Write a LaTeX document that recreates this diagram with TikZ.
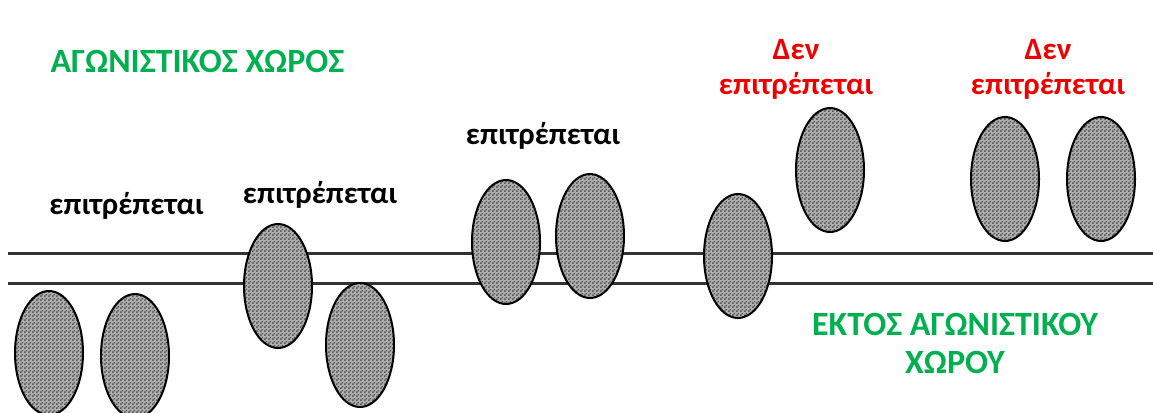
\documentclass[tikz,border=0pt]{standalone}
\usepackage{fontspec}
\setmainfont{Carlito}
\usetikzlibrary{shapes.geometric,patterns}
\pgfdeclarepatternformonly{finechecker}{\pgfpointorigin}{\pgfqpoint{4pt}{4pt}}{\pgfqpoint{4pt}{4pt}}{%
  \pgfpathrectangle{\pgfpointorigin}{\pgfqpoint{2pt}{2pt}}%
  \pgfpathrectangle{\pgfqpoint{2pt}{2pt}}{\pgfqpoint{2pt}{2pt}}%
  \pgfusepath{fill}}
\definecolor{grn}{HTML}{00B050}
\definecolor{rd}{HTML}{EE0000}
\definecolor{celllight}{HTML}{B0B0B0}
\definecolor{celldark}{HTML}{5A5A5A}
\tikzset{
  cell/.style={ellipse, draw=black, line width=2pt, preaction={fill=celllight}, pattern=finechecker, pattern color=celldark, minimum width=68pt, minimum height=124pt, inner sep=0pt},
  zone/.style={text=grn, font=\fontsize{34}{38}\selectfont\bfseries, align=center, inner sep=0pt},
  ok/.style={text=black, font=\fontsize{31}{35}\selectfont\bfseries, inner sep=0pt},
  notok/.style={text=rd, font=\fontsize{31}{35}\selectfont\bfseries, align=center, inner sep=0pt},
  rail/.style={draw=black!80, line width=3pt}
}
\begin{document}
\begin{tikzpicture}[x=1pt,y=-1pt]
\useasboundingbox[fill=white] (0,0) rectangle (1153,412);
% rails
\coordinate (u0) at (8,253);
\coordinate (u1) at (1153,253);
\coordinate (l0) at (8,283);
\coordinate (l1) at (1153,283);
\draw[rail] (u0) -- (u1);
\draw[rail] (l0) -- (l1);
% cells
\node[cell] (c1) at (49,353) {};
\node[cell] (c2) at (135,356) {};
\node[cell] (c3) at (278,286) {};
\node[cell] (c4) at (360,345) {};
\node[cell] (c5) at (506,242) {};
\node[cell] (c6) at (590,236) {};
\node[cell] (c7) at (738,256) {};
\node[cell] (c8) at (830,170) {};
\node[cell] (c9) at (1005,179) {};
\node[cell] (c10) at (1101,179) {};
% labels
\node[zone, anchor=base] (z1) at (197.5,72) {ΑΓΩΝΙΣΤΙΚΟΣ ΧΩΡΟΣ};
\node[zone, anchor=base] (z2) at (955,373) {ΕΚΤΟΣ ΑΓΩΝΙΣΤΙΚΟΥ\\ΧΩΡΟΥ};
\node[ok, anchor=base] (t1) at (126.5,214) {επιτρέπεται};
\node[ok, anchor=base] (t2) at (320,203) {επιτρέπεται};
\node[ok, anchor=base] (t3) at (543,144) {επιτρέπεται};
\node[notok, anchor=base] (n1) at (796,94) {Δεν\\επιτρέπεται};
\node[notok, anchor=base] (n2) at (1048,94) {Δεν\\επιτρέπεται};
\end{tikzpicture}
\end{document}
